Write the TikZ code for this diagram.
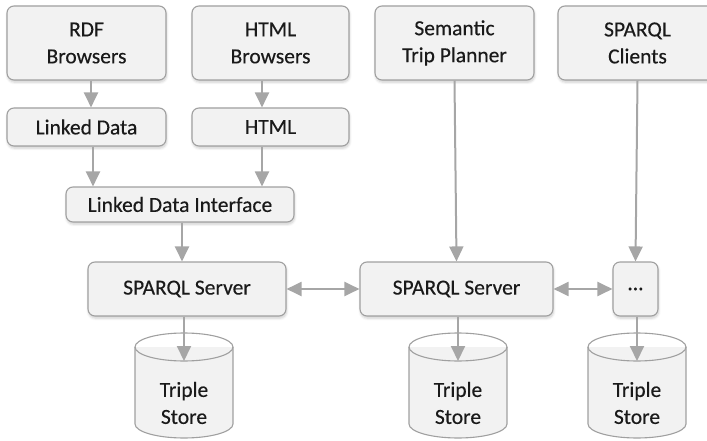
\documentclass[tikz,border=0pt]{standalone}
\usepackage{fontspec}
\setmainfont{Carlito}
\newfontfamily\labelfont{Carlito}[FakeBold=0.35]
\usetikzlibrary{arrows.meta,shadows.blur}
\definecolor{boxfill}{HTML}{F2F2F2}
\definecolor{boxedge}{HTML}{A0A0A0}
\definecolor{linkgray}{HTML}{A6A6A6}
\definecolor{inkcol}{HTML}{1A1A1A}

% a triple store drawn as a cylinder; #1 name of its entry point, #2 centre x
\newcommand\triplestore[2]{%
  \fill[boxfill] (#2-49,347) rectangle (#2+49,424);
  \fill[boxfill] (#2,424) ellipse[x radius=49,y radius=14];
  \draw[cylline] (#2-49,347) -- (#2-49,424)
     arc[start angle=180,end angle=0,x radius=49,y radius=14] -- (#2+49,347);
  \draw[cylline] (#2,347) ellipse[x radius=49,y radius=14];
  \coordinate (#1) at (#2,361);
  \node[lbl] (#1-text) at (#2,403) {Triple\\Store};
}

\begin{document}
\begin{tikzpicture}[x=1pt,y=-1pt,
  lbl/.style={align=center, text=inkcol, font=\labelfont\fontsize{21.5}{27}\selectfont, inner sep=0pt},
  box/.style={lbl, draw=boxedge, fill=boxfill, line width=1.1pt, rounded corners=7pt,
    blur shadow={shadow xshift=0.6pt, shadow yshift=-2.2pt, shadow blur steps=6,
      shadow opacity=20, shadow blur radius=2.5pt}},
  tall/.style={box, minimum width=#1, minimum height=74pt},
  flat/.style={box, minimum width=#1, minimum height=38pt},
  cylline/.style={draw=boxedge, line width=1.1pt},
  arr/.style={draw=linkgray, line width=2pt, -{Triangle[length=15pt,width=14pt]}},
  dbl/.style={draw=linkgray, line width=2pt,
    {Triangle[length=15pt,width=14pt]}-{Triangle[length=15pt,width=14pt]}}
]
\useasboundingbox (0,0) rectangle (707,441);
\clip (0,0) rectangle (707,441);

% client applications
\node[tall=159pt] (rdf) at (86.5,43) {RDF\\Browsers};
\node[tall=157pt] (hb) at (270.5,43) {HTML\\Browsers};
\node[tall=159pt] (stp) at (454.5,43) {Semantic\\Trip Planner};
\node[tall=159pt] (clients) at (637.5,43) {SPARQL\\Clients};

% formats and interface
\node[flat=159pt] (ld) at (86.5,127) {Linked Data};
\node[flat=157pt] (html) at (270.5,127) {HTML};
\node[box, minimum width=228pt, minimum height=35pt] (ldi) at (180,204.5) {Linked Data Interface};

% servers
\node[box, minimum width=198pt, minimum height=54pt] (srv1) at (187,289) {SPARQL Server};
\node[box, minimum width=193pt, minimum height=54pt] (srv2) at (456.5,289) {SPARQL Server};
\node[box, minimum width=45pt, minimum height=54pt] (dots) at (635.5,289) {...};

% stores
\triplestore{ts1}{184}
\triplestore{ts2}{458}
\triplestore{ts3}{637}

% connectors
\draw[arr] ([xshift=4.5pt]rdf.south) -- ([xshift=4.5pt]ld.north);
\draw[arr] ([xshift=-8.5pt]hb.south) -- ([xshift=-8.5pt]html.north);
\draw[arr] ([xshift=6.5pt]ld.south) -- ([xshift=6.5pt]ld.south |- ldi.north);
\draw[arr] ([xshift=-8.5pt]html.south) -- ([xshift=-8.5pt]html.south |- ldi.north);
\draw[arr] ([xshift=2pt]ldi.south) -- ([xshift=2pt]ldi.south |- srv1.north);
\draw[arr] (stp.south) -- (srv2.north);
\draw[arr] (clients.south) -- (dots.north);
\draw[dbl] (srv1.east) -- (srv2.west);
\draw[dbl] (srv2.east) -- (dots.west);
\draw[arr] (srv1.south -| ts1) -- (ts1);
\draw[arr] (srv2.south -| ts2) -- (ts2);
\draw[arr] (dots.south -| ts3) -- (ts3);
\end{tikzpicture}
\end{document}
